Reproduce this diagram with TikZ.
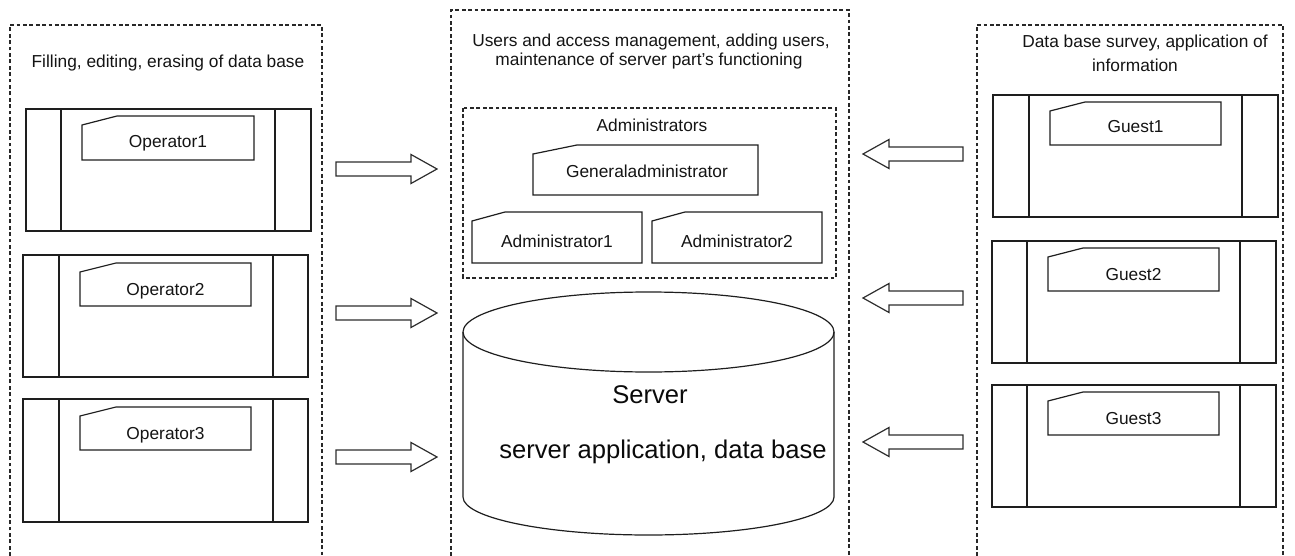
\documentclass[tikz,border=0pt]{standalone}
\usepackage{fontspec}
\setmainfont{Liberation Sans}

\tikzset{
  frame/.style={draw={rgb, 255:red, 40; green, 40; blue, 40}, line width=0.85pt, dash pattern=on 2.9pt off 1.9pt},
  cardline/.style={draw={rgb, 255:red, 30; green, 30; blue, 30}, line width=0.9pt},
  blockarr/.style={draw={rgb, 255:red, 45; green, 45; blue, 45}, line width=0.9pt, fill=white},
  lbl/.style={anchor=base, inner sep=0.75pt, text={rgb, 255:red, 20; green, 20; blue, 20}, font=\fontsize{13}{14}\selectfont},
  biglbl/.style={anchor=base, inner sep=0.75pt, text={rgb, 255:red, 10; green, 10; blue, 10}, font=\fontsize{19.2}{22}\selectfont},
}

\begin{document}
\begin{tikzpicture}[x=0.75pt,y=0.75pt,yscale=-1,xscale=1]
    \useasboundingbox (0,0) rectangle (1295,556);

    %Shape: Dashed frames (open at the bottom)
    \draw [frame] (10,556) -- (10,25) -- (322,25) -- (322,556) ;
    \draw [frame] (451,556) -- (451,10) -- (849,10) -- (849,556) ;
    \draw [frame] (977,556) -- (977,25) -- (1283,25) -- (1283,556) ;

    %Shape: Operator cards
    \draw [cardline] (26,109) rectangle (311,231) (61,109) -- (61,231) (275,109) -- (275,231) ;
    \draw [cardline] (82,125) -- (117,116) -- (254,116) -- (254,160) -- (82,160) -- cycle ;
    \draw [cardline] (23,255) rectangle (308,377) (59,255) -- (59,377) (273,255) -- (273,377) ;
    \draw [cardline] (80,272) -- (116,263) -- (251,263) -- (251,306) -- (80,306) -- cycle ;
    \draw [cardline] (23,399) rectangle (308,522) (59,399) -- (59,522) (273,399) -- (273,522) ;
    \draw [cardline] (80,416) -- (116,407) -- (251,407) -- (251,450) -- (80,450) -- cycle ;

    %Shape: Guest cards
    \draw [cardline] (993,95) rectangle (1278,217) (1029,95) -- (1029,217) (1242,95) -- (1242,217) ;
    \draw [cardline] (1050,111) -- (1085,102) -- (1221,102) -- (1221,145) -- (1050,145) -- cycle ;
    \draw [cardline] (992,241) rectangle (1276,363) (1027,241) -- (1027,363) (1240,241) -- (1240,363) ;
    \draw [cardline] (1048,257) -- (1083,248) -- (1219,248) -- (1219,291) -- (1048,291) -- cycle ;
    \draw [cardline] (992,385) rectangle (1276,507) (1027,385) -- (1027,507) (1240,385) -- (1240,507) ;
    \draw [cardline] (1048,401) -- (1083,392) -- (1219,392) -- (1219,435) -- (1048,435) -- cycle ;

    %Shape: Administrators group
    \draw [frame] (463,108) rectangle (836,278) ;
    \draw [cardline] (533,154) -- (577,145) -- (758,145) -- (758,195) -- (533,195) -- cycle ;
    \draw [cardline] (472,221) -- (505,212) -- (642,212) -- (642,263) -- (472,263) -- cycle ;
    \draw [cardline] (652,221) -- (685,212) -- (822,212) -- (822,263) -- (652,263) -- cycle ;

    %Shape: Server cylinder
    \draw [cardline] (648.5,332) ellipse [x radius=185.5, y radius=40] ;
    \draw [cardline] (463,332) -- (463,497) arc [start angle=180, end angle=0, x radius=185.5, y radius=38] -- (834,332) ;

    %Shape: Block arrows, operators -> server
    \draw [blockarr] (336,162) -- (411,162) -- (411,154.5) -- (437,169) -- (411,183.5) -- (411,176) -- (336,176) -- cycle ;
    \draw [blockarr] (336,306) -- (411,306) -- (411,298.5) -- (437,313) -- (411,327.5) -- (411,320) -- (336,320) -- cycle ;
    \draw [blockarr] (336,450) -- (411,450) -- (411,442.5) -- (437,457) -- (411,471.5) -- (411,464) -- (336,464) -- cycle ;
    %Shape: Block arrows, guests -> server
    \draw [blockarr] (963,147) -- (889,147) -- (889,139.5) -- (863,154) -- (889,168.5) -- (889,161) -- (963,161) -- cycle ;
    \draw [blockarr] (963,291) -- (889,291) -- (889,283.5) -- (863,298) -- (889,312.5) -- (889,305) -- (963,305) -- cycle ;
    \draw [blockarr] (963,435) -- (889,435) -- (889,427.5) -- (863,442) -- (889,456.5) -- (889,449) -- (963,449) -- cycle ;

    % Text Node
    \node [lbl] (optitle) at (168,68) {Filling, editing, erasing of data base};
    % Text Node
    \node [lbl] (admtitlea) at (651,47) {Users and access management, adding users,};
    \node [lbl] (admtitleb) at (649,65.5) {maintenance of server part’s functioning};
    % Text Node
    \node [lbl] (guesttitlea) at (1145,48) {Data base survey, application of};
    \node [lbl] (guesttitleb) at (1135,72) {information};
    % Text Node
    \node [lbl] (op1) at (168,148) {Operator1};
    \node [lbl] (op2) at (165.5,295) {Operator2};
    \node [lbl] (op3) at (165.5,439) {Operator3};
    % Text Node
    \node [lbl] (guest1) at (1135.5,133) {Guest1};
    \node [lbl] (guest2) at (1133.5,280) {Guest2};
    \node [lbl] (guest3) at (1133.5,424) {Guest3};
    % Text Node
    \node [lbl] (admgroup) at (652,132) {Administrators};
    \node [lbl] (genadm) at (647,178) {Generaladministrator};
    \node [lbl] (adm1) at (557,247) {Administrator1};
    \node [lbl] (adm2) at (737,247) {Administrator2};
    % Text Node
    \node [biglbl] (server) at (650,403) {Server};
    \node [biglbl] (serverapp) at (663,458) {server application, data base};

\end{tikzpicture}
\end{document}
